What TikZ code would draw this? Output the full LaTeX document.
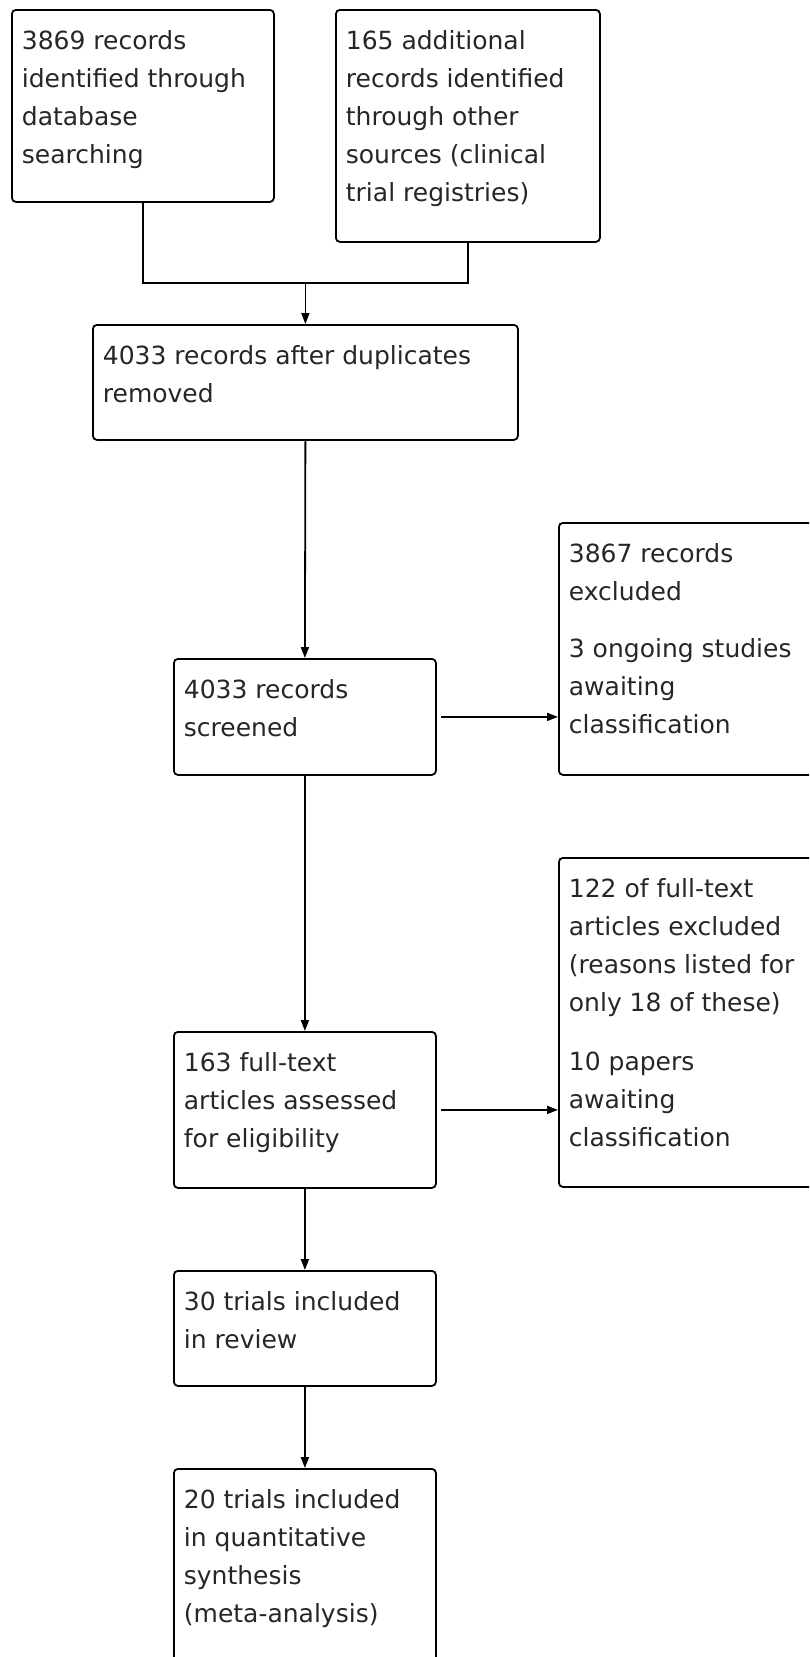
\documentclass[tikz,border=0pt]{standalone}
\usepackage{fontspec}
\setmainfont{DejaVu Sans}
\usetikzlibrary{arrows.meta}
\usepackage{xcolor}

\newcommand{\stagetext}[3]{\parbox[c][#2][t]{#1}{\raggedright\rule{0pt}{40pt}#3}}

\begin{document}
\begin{tikzpicture}[x=1pt, y=1pt,
        stage/.style={draw=black, line width=1.8pt, rounded corners=4pt, anchor=north west,
            inner xsep=10pt, inner ysep=0pt, text=black!85, font=\fontsize{25}{38}\selectfont},
        flow/.style={line width=1.8pt, -{Triangle[length=11pt,width=8pt]}}]
        \useasboundingbox (0,0) rectangle (809,-1657);
        \clip (0,0) rectangle (809,-1657);

        \node[stage] (dbase) at (11,-9) {\stagetext{242pt}{192pt}{3869 records\\identified through\\database\\searching}};
        \node[stage] (other) at (335,-9) {\stagetext{244pt}{232pt}{165 additional\\records identified\\through other\\sources (clinical\\trial registries)}};
        \node[stage] (dedup) at (92,-324) {\stagetext{405pt}{115pt}{4033 records after duplicates\\removed}};
        \node[stage] (screen) at (173,-658) {\stagetext{242pt}{116pt}{4033 records\\screened}};
        \node[stage] (excl) at (558,-522) {\stagetext{242pt}{252pt}{3867 records\\excluded\\[19pt]3 ongoing studies\\awaiting\\classification}};
        \node[stage] (full) at (173,-1031) {\stagetext{242pt}{156pt}{163 full-text\\articles assessed\\for eligibility}};
        \node[stage] (fexcl) at (558,-857) {\stagetext{242pt}{329pt}{122 of full-text\\articles excluded\\(reasons listed for\\only 18 of these)\\[21pt]10 papers\\awaiting\\classification}};
        \node[stage] (review) at (173,-1270) {\stagetext{242pt}{115pt}{30 trials included\\in review}};
        \node[stage] (meta) at (173,-1468) {\stagetext{242pt}{192pt}{20 trials included\\in quantitative\\synthesis\\(meta-analysis)}};

        \coordinate (join) at (dedup.north |- 0,-283);

        \draw[line width=1.8pt] (dbase.south) |- (join) -| (other.south);
        \draw[flow] (join) -- (dedup.north);
        \draw[flow] (dedup.south) -- (screen.north);
        \draw[flow, shorten <=4pt] (screen.east) -- (screen.east -| excl.west);
        \draw[flow] (screen.south) -- (full.north);
        \draw[flow, shorten <=4pt] (full.east) -- (full.east -| fexcl.west);
        \draw[flow] (full.south) -- (review.north);
        \draw[flow] (review.south) -- (meta.north);

        \end{tikzpicture}
\end{document}
